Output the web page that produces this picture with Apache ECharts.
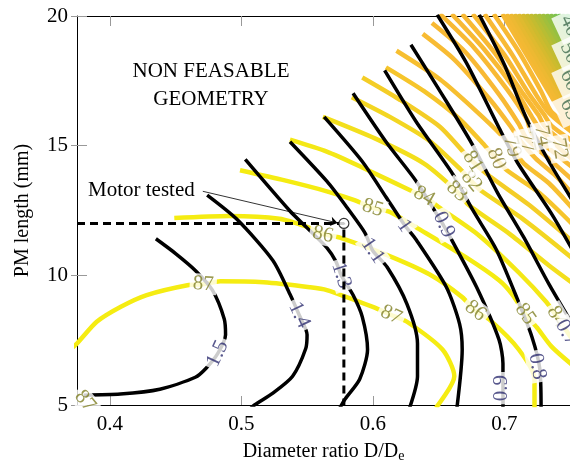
<!DOCTYPE html>
<html><head><meta charset="utf-8">
<script src="https://cdn.jsdelivr.net/npm/echarts@6/dist/echarts.min.js"></script>
<style>html,body{margin:0;padding:0;background:#fff}#c{width:570px;height:468px}</style>
</head><body><div id="c"></div>
<script>
// ---- axis ticks ----
const xTicks = [0.4, 0.5, 0.6, 0.7];
const yTicks = [5, 10, 15, 20];

// ---- torque contours (black), [D/De, PM length] ----
const torque15 = [[0.435,11.41],[0.450,10.84],[0.465,10.19],[0.478,9.43],[0.487,8.32],[0.488,7.71],[0.482,6.98],[0.473,6.41],[0.465,6.07],[0.438,5.61],[0.408,5.42],[0.380,5.38]];
const torque14 = [[0.474,13.09],[0.497,12.14],[0.524,10.57],[0.537,9.27],[0.544,8.47],[0.550,7.71],[0.549,7.18],[0.539,6.11],[0.524,5.46],[0.510,5.00],[0.506,4.81]];
const torque13 = [[0.503,14.47],[0.537,12.48],[0.550,11.83],[0.565,11.07],[0.572,10.53],[0.576,10.00],[0.585,9.24],[0.592,8.40],[0.596,7.14],[0.590,5.99],[0.579,5.23],[0.575,4.89]];
const torque11 = [[0.537,15.15],[0.565,13.63],[0.579,12.71],[0.594,11.64],[0.600,10.95],[0.611,10.31],[0.626,8.89],[0.634,7.37],[0.634,6.11],[0.628,4.89]];
const torque10 = [[0.563,16.11],[0.592,14.39],[0.610,13.02],[0.624,11.95],[0.633,11.37],[0.656,9.54],[0.666,8.13],[0.668,7.14],[0.664,4.89]];
const torque09 = [[0.585,17.02],[0.610,15.15],[0.633,13.63],[0.654,11.91],[0.660,11.37],[0.679,9.54],[0.696,7.52],[0.699,6.60],[0.699,4.89]];
const torque08 = [[0.609,17.90],[0.633,15.92],[0.661,13.89],[0.676,12.52],[0.694,10.99],[0.710,9.08],[0.721,7.63],[0.727,6.41],[0.728,4.89]];
const torque07 = [[0.629,18.89],[0.653,16.95],[0.675,15.11],[0.695,13.17],[0.715,11.45],[0.734,9.66],[0.753,8.02]];
const torque06 = [[0.649,20.05],[0.671,18.21],[0.696,15.69],[0.710,14.35],[0.736,12.37],[0.753,10.88]];
const torque05 = [[0.681,20.05],[0.700,18.13],[0.717,16.03],[0.734,14.39],[0.753,12.79]];

// ---- efficiency contours (%) ----
const eff87 = [[0.370,7.15],[0.375,7.37],[0.390,8.21],[0.408,8.78],[0.428,9.24],[0.459,9.62],[0.471,9.66],[0.484,9.77],[0.517,9.73],[0.552,9.54],[0.565,9.43],[0.600,8.78],[0.614,8.47],[0.626,8.21],[0.653,7.14],[0.662,6.11],[0.648,4.89]];
const eff86 = [[0.449,12.21],[0.491,12.29],[0.529,12.18],[0.550,11.87],[0.562,11.60],[0.575,11.45],[0.610,10.80],[0.643,10.04],[0.668,9.16],[0.678,8.63],[0.689,8.28],[0.711,7.14],[0.723,5.99],[0.723,4.89]];
const eff85 = [[0.499,14.05],[0.533,13.66],[0.565,13.24],[0.586,12.90],[0.600,12.60],[0.613,12.44],[0.635,11.79],[0.671,10.69],[0.696,9.81],[0.706,9.27],[0.716,8.51],[0.725,7.98],[0.736,7.25],[0.753,6.49]];
const eff84 = [[0.537,15.23],[0.565,14.77],[0.592,14.16],[0.630,13.24],[0.639,13.05],[0.651,12.60],[0.681,11.53],[0.711,10.11],[0.732,8.97],[0.740,8.40],[0.753,7.44]];
const eff83 = [[0.562,16.11],[0.602,15.27],[0.639,14.31],[0.664,13.24],[0.673,12.71],[0.704,11.60],[0.734,10.38],[0.753,9.66]];
const eff82 = [[0.584,16.87],[0.613,16.11],[0.643,15.19],[0.666,14.12],[0.675,13.63],[0.683,13.24],[0.715,12.14],[0.753,10.61]];
const eff81 = [[0.592,17.63],[0.620,16.79],[0.651,15.73],[0.668,14.81],[0.676,14.39],[0.689,13.82],[0.719,12.71],[0.753,11.26]];
const eff80 = [[0.610,18.02],[0.639,17.10],[0.666,16.03],[0.686,14.96],[0.694,14.50],[0.702,14.05],[0.727,13.17],[0.753,11.91]];
const eff79 = [[0.618,18.66],[0.651,17.56],[0.677,16.41],[0.699,15.34],[0.706,14.89],[0.715,14.31],[0.734,13.55],[0.753,12.52]];
const eff78 = [[0.638,19.31],[0.662,18.32],[0.689,16.79],[0.705,15.73],[0.711,15.27],[0.724,14.50],[0.738,13.89],[0.753,13.09]];
const eff77 = [[0.645,19.73],[0.670,18.63],[0.696,16.98],[0.711,15.84],[0.717,15.27],[0.732,14.58],[0.753,13.63]];
const eff76 = [[0.651,20.08],[0.677,18.78],[0.702,17.18],[0.717,16.03],[0.721,15.46],[0.739,14.69],[0.753,14.12]];
const eff75 = [[0.660,20.08],[0.685,18.70],[0.708,17.18],[0.721,16.11],[0.727,15.65],[0.744,14.81],[0.753,14.43]];
const eff74 = [[0.668,20.08],[0.692,18.63],[0.713,17.10],[0.726,16.18],[0.731,15.73],[0.753,14.81]];
const eff73 = [[0.676,20.08],[0.700,18.51],[0.719,16.98],[0.730,16.22],[0.736,15.76],[0.753,15.15]];
const eff72 = [[0.685,20.08],[0.706,18.51],[0.724,16.98],[0.734,16.26],[0.753,15.46]];
const eff71 = [[0.692,20.08],[0.711,18.63],[0.728,17.10],[0.736,16.30],[0.753,15.73]];

// dense low-efficiency contours in the top-right corner
const denseLevels = [70,69,68,67,66,65,64,63,62,61,60,58,56,54,52,50,45,40];
const denseTopX  = [0.6985,0.7015,0.7046,0.7076,0.7106,0.7137,0.7167,0.7197,0.7228,0.7258,0.7288,0.7319,0.7349,0.7380,0.7410,0.7440,0.7471,0.7501];
const denseEdgeY = [15.42,15.65,15.92,16.18,16.45,16.72,16.95,17.21,17.48,17.75,18.02,18.24,18.51,18.78,19.05,19.31,19.54,19.81];
const denseTopY = 20.08, denseEdgeX = 0.7531;

// ---- contour labels ----
const effLabels = [[0.471,9.66,'87'],[0.614,8.47,'87'],[0.381,5.15,'87'],[0.562,11.57,'86'],[0.678,8.63,'86'],
  [0.600,12.60,'85'],[0.716,8.51,'85'],[0.639,13.05,'84'],[0.740,8.40,'84'],[0.664,13.24,'83'],[0.675,13.63,'82'],
  [0.676,14.39,'81'],[0.694,14.50,'80'],[0.706,14.96,'79'],[0.717,15.15,'77'],[0.729,15.38,'74'],[0.742,14.89,'72'],
  [0.7497,19.62,'40'],[0.7497,18.58,'50'],[0.7497,17.52,'60'],[0.7497,16.40,'65']];
const effLabelRot = [-3,-25,-50,-12,-38,-18,-55,-30,-60,-42,-50,-58,-68,-75,-78,-80,-80,-65,-65,-65,-65];
const torqueLabels = [[0.482,6.98,'1.5'],[0.544,8.47,'1.4'],[0.576,10.00,'1.3'],[0.600,10.95,'1.1'],[0.624,11.91,'1'],
  [0.654,11.95,'0.9'],[0.698,5.65,'0.9'],[0.725,6.49,'0.8'],[0.7475,7.79,'0.7']];
const torqueLabelRot = [65,-65,-72,-55,-55,-65,90,-80,-60];

// ---- annotation ----
const motorPoint = [0.578, 12];
const motorGuide = [[0.375,12],[0.578,12],[0.578,5]];
const arrowLine = [[0.4707,13.24],[0.5732,12.02]];

// ---- colours ----
const effColor = {87:'#f5ec12',86:'#f5ec12',85:'#f5ec12',84:'#f4e816',83:'#f3df1c',82:'#f3d621',81:'#f4cd26',80:'#f6c52b',79:'#f7bf30',
  78:'#f8bb33',77:'#f8b934',76:'#f8b934',75:'#f8b934',74:'#f8b934',73:'#f8b934',72:'#f8b934',71:'#f8b934'};
const denseColors = ['#f6b934','#f2b933','#edb932','#e6b930','#dfba2f','#d6ba2e','#cdbb2e','#c3bc30','#b8bd33','#adbe37','#a1bf3c','#95c041','#89c147','#7dc24d','#71c353','#66c459','#5bc55f','#52c666'];

const FONT = 'Liberation Serif';
const series = [];
function addLine(data, color, width, z){
  series.push({type:'line', data, symbol:'none', showSymbol:false, smooth:0.25, silent:true,
    lineStyle:{color, width, cap:'butt'}, z, animation:false, clip:true});
}
const effSets = [[87,eff87],[86,eff86],[85,eff85],[84,eff84],[83,eff83],[82,eff82],[81,eff81],[80,eff80],[79,eff79],[78,eff78],[77,eff77],[76,eff76],[75,eff75],[74,eff74],[73,eff73],[72,eff72],[71,eff71]];
denseLevels.forEach((lv,i)=>{ addLine([[denseTopX[i],denseTopY],[denseEdgeX,denseEdgeY[i]]], denseColors[i], 4.5, 2); });
effSets.forEach(([lv,d])=>addLine(d, effColor[lv], 4.5, 2));
[torque15,torque14,torque13,torque11,torque10,torque09,torque08,torque07,torque06,torque05].forEach(d=>addLine(d,'#000',3.5,3));

function labelSeries(list, rots, color){
  series.push({type:'scatter', symbolSize:0, silent:true, z:10, animation:false, clip:false,
    data: list.map((p,i)=>({value:[p[0],p[1]], name:p[2], label:{rotate:rots[i]}})),
    label:{show:true, position:'inside', formatter:'{b}', color, fontFamily:FONT, fontSize:21,
      backgroundColor:'#fff', padding:[0,3]}});
}
labelSeries(effLabels, effLabelRot, '#7f7f24');
labelSeries(torqueLabels, torqueLabelRot, '#2e2e70');
series[series.length-2].data.forEach((d,i)=>{ if(i>=17){ d.label.color='#3f6a4c'; d.label.padding=[3,4]; } else if(i>=12){ d.label.color='#857a2c'; } });

series.push({type:'line', data:motorGuide, symbol:'none', silent:true, z:12, animation:false,
  lineStyle:{color:'#000', width:3, type:[8,5]}});
series.push({type:'lines', coordinateSystem:'cartesian2d', silent:true, z:12, animation:false,
  symbol:['none','arrow'], symbolSize:7, lineStyle:{color:'#000', width:0.8, opacity:1},
  data:[{coords:arrowLine}]});
series.push({type:'scatter', data:[motorPoint], symbol:'circle', symbolSize:10, silent:true, z:13, animation:false,
  itemStyle:{color:'#fff', borderColor:'#000', borderWidth:1.2}});

const chart = echarts.init(document.getElementById('c'), null, {renderer:'canvas'});
chart.setOption({
  animation:false,
  backgroundColor:'#fff',
  grid:{left:77, right:-1, top:16, bottom:59, containLabel:false},
  xAxis:[{
    type:'value', min:0.375, max:0.75, position:'bottom',
    axisLine:{lineStyle:{color:'#000', width:1}},
    axisTick:{inside:true, length:9, customValues:xTicks, lineStyle:{color:'#999'}},
    axisLabel:{customValues:xTicks, formatter:v=>v.toFixed(1), color:'#000', fontFamily:FONT, fontSize:21, margin:9},
    splitLine:{show:false},
    name:'{t|Diameter ratio D/D}{s|e}', nameLocation:'middle', nameGap:35,
    nameTextStyle:{color:'#000', fontFamily:FONT, rich:{t:{fontSize:20, fontFamily:FONT, color:'#000'}, s:{fontSize:14, fontFamily:FONT, color:'#000', padding:[9,0,0,0]}}}
  },{
    type:'value', min:0.375, max:0.75, position:'top',
    axisLine:{lineStyle:{color:'#000', width:1}},
    axisTick:{inside:true, length:10, customValues:xTicks, lineStyle:{color:'#999'}},
    axisLabel:{show:false}, splitLine:{show:false}
  }],
  yAxis:[{
    type:'value', min:5, max:20, interval:5, position:'left',
    axisLine:{show:true, lineStyle:{color:'#000', width:1}},
    axisTick:{show:true, inside:true, length:10, lineStyle:{color:'#999'}},
    axisLabel:{color:'#000', fontFamily:FONT, fontSize:21, margin:9},
    splitLine:{show:false},
    name:'PM length (mm)', nameLocation:'middle', nameGap:44,
    nameTextStyle:{color:'#000', fontFamily:FONT, fontSize:20}
  },{
    type:'value', min:5, max:20, interval:5, position:'left',
    axisLine:{show:false}, axisTick:{show:true, inside:false, length:6, lineStyle:{color:'#999'}},
    axisLabel:{show:false}, splitLine:{show:false}
  }],
  graphic:[
    {type:'text', x:211, y:71, style:{text:'NON FEASABLE', font:'21px "Liberation Serif"', fill:'#000', align:'center', verticalAlign:'middle'}, z:20},
    {type:'text', x:211, y:99, style:{text:'GEOMETRY', font:'21px "Liberation Serif"', fill:'#000', align:'center', verticalAlign:'middle'}, z:20},
    {type:'text', x:88, y:190, style:{text:'Motor tested', font:'21px "Liberation Serif"', fill:'#000', align:'left', verticalAlign:'middle'}, z:20}
  ],
  series
});
</script></body></html>
